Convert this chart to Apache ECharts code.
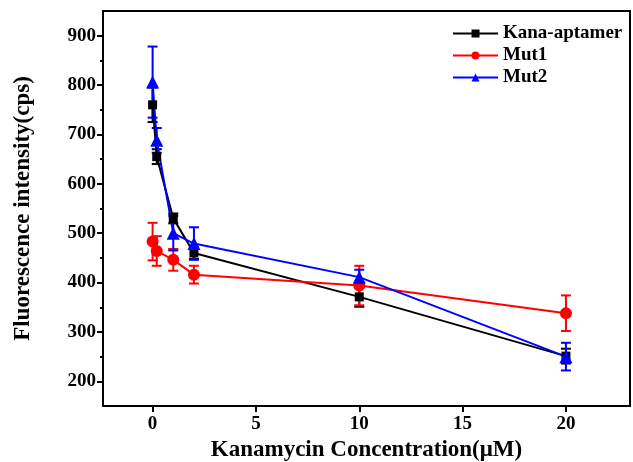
<!DOCTYPE html>
<html>
  <head>
    <meta charset="UTF-8">
    <title>Kanamycin</title>
    <script src="https://cdn.jsdelivr.net/npm/echarts@6/dist/echarts.min.js"></script>
  </head>
  <body style="margin:0">
    <div id="box" style="width:633px;height:462px"></div>
    <script>
        // 浓度 (μM)
        var conc = [0, 0.2, 1, 2, 10, 20];
        var xTicks = [0, 5, 10, 15, 20];
        var yTicks = [200, 300, 400, 500, 600, 700, 800, 900];
        var yMinor = [250, 350, 450, 550, 650, 750, 850];

        var kanaMean = [760, 655, 530, 460, 371, 251];
        var kanaErr  = [35, 15, 10, 12, 20, 15];
        var mut1Mean = [483, 464, 446, 416, 394, 338];
        var mut1Err  = [38, 30, 22, 18, 40, 36];
        var mut2Mean = [806, 688, 500, 479, 411, 250];
        var mut2Err  = [72, 25, 35, 33, 15, 28];

        var font = '"Liberation Serif", "DejaVu Serif", serif';

        function pts(mean) {
            return conc.map(function (c, i) { return [c, mean[i]]; });
        }
        function bars(mean, err) {
            return conc.map(function (c, i) { return [c, mean[i] - err[i], mean[i] + err[i]]; });
        }
        function errSeries(mean, err, color) {
            return {
                type: 'custom',
                data: bars(mean, err),
                encode: {x: 0, y: [1, 2]},
                silent: true,
                renderItem: function (params, api) {
                    var lo = api.coord([api.value(0), api.value(1)]);
                    var hi = api.coord([api.value(0), api.value(2)]);
                    var w = 5;
                    var st = {stroke: color, lineWidth: 2};
                    return {
                        type: 'group',
                        children: [
                            {type: 'line', shape: {x1: lo[0], y1: lo[1], x2: hi[0], y2: hi[1]}, style: st},
                            {type: 'line', shape: {x1: lo[0] - w, y1: lo[1], x2: lo[0] + w, y2: lo[1]}, style: st},
                            {type: 'line', shape: {x1: hi[0] - w, y1: hi[1], x2: hi[0] + w, y2: hi[1]}, style: st}
                        ]
                    };
                }
            };
        }

        var myChart = echarts.init(document.getElementById('box'));
        myChart.setOption({
            animation: false,
            grid: {
                left: 103, top: 11, right: 3, bottom: 56, outerBoundsMode: 'none',
                show: true, borderColor: '#000', borderWidth: 2
            },
            legend: {
                left: 452, top: 24, orient: 'vertical', itemGap: 3, padding: 0,
                itemWidth: 45, itemHeight: 10,
                textStyle: {fontFamily: font, fontWeight: 'bold', fontSize: 19, color: '#000'},
                data: ['Kana-aptamer', 'Mut1', 'Mut2']
            },
            xAxis: {
                type: 'value', min: -2.4, max: 23.1,
                name: 'Kanamycin Concentration(μM)', nameLocation: 'middle', nameGap: 32,
                nameTextStyle: {fontFamily: font, fontWeight: 'bold', fontSize: 23, color: '#000'},
                axisLine: {onZero: false, lineStyle: {color: '#000', width: 2}},
                axisTick: {customValues: xTicks, length: 6, lineStyle: {width: 2}},
                axisLabel: {customValues: xTicks, fontFamily: font, fontWeight: 'bold', fontSize: 19, color: '#000', margin: 9},
                splitLine: {show: false}
            },
            yAxis: [{
                type: 'value', min: 150, max: 950,
                name: 'Fluorescence intensity(cps)', nameLocation: 'middle', nameGap: 68,
                nameTextStyle: {fontFamily: font, fontWeight: 'bold', fontSize: 23, color: '#000'},
                axisLine: {show: true, onZero: false, lineStyle: {color: '#000', width: 2}},
                axisTick: {customValues: yTicks, length: 6, lineStyle: {width: 2}},
                axisLabel: {customValues: yTicks, fontFamily: font, fontWeight: 'bold', fontSize: 19, color: '#000', margin: 7},
                splitLine: {show: false}
            }, {
                // 次刻度
                type: 'value', min: 150, max: 950, position: 'left',
                axisLine: {show: false, onZero: false},
                axisTick: {show: true, customValues: yMinor, length: 3, lineStyle: {color: '#000', width: 2}},
                axisLabel: {show: false},
                splitLine: {show: false}
            }],
            series: [
                errSeries(kanaMean, kanaErr, '#000'),
                {
                    name: 'Kana-aptamer', type: 'line', data: pts(kanaMean),
                    symbol: 'rect', symbolSize: 9,
                    itemStyle: {color: '#000'}, lineStyle: {color: '#000', width: 2}
                },
                errSeries(mut1Mean, mut1Err, '#ff0000'),
                {
                    name: 'Mut1', type: 'line', data: pts(mut1Mean),
                    symbol: 'circle', symbolSize: 12,
                    itemStyle: {color: '#ff0000'}, lineStyle: {color: '#ff0000', width: 2}
                },
                errSeries(mut2Mean, mut2Err, '#0000ff'),
                {
                    name: 'Mut2', type: 'line', data: pts(mut2Mean),
                    symbol: 'triangle', symbolSize: 13,
                    itemStyle: {color: '#0000ff'}, lineStyle: {color: '#0000ff', width: 2}
                }
            ]
        });
    </script>
  </body>
</html>
